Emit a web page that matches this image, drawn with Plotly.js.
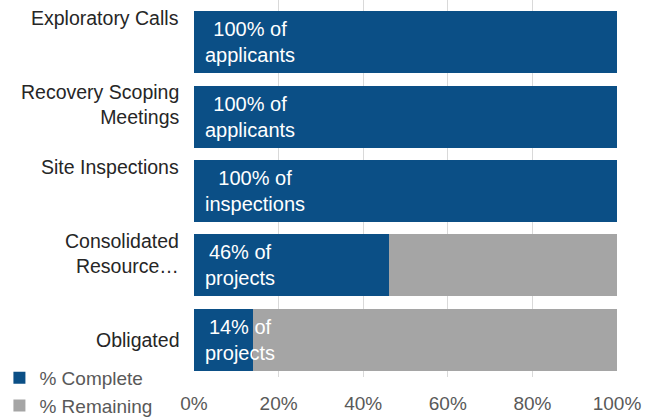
<!DOCTYPE html>
<html>
<head>
<meta charset="utf-8">
<script src="https://cdn.plot.ly/plotly-3.0.1.min.js"></script>
<style>html,body{margin:0;padding:0;background:#fff;}#chart{width:646px;height:417px;}</style>
</head>
<body>
<div id="chart"></div>
<script>
var categories = ["Exploratory Calls", "Recovery Scoping Meetings", "Site Inspections", "Consolidated Resource Plans", "Obligated"];
var categoryLabels = ["Exploratory Calls", "Recovery Scoping<br>Meetings", "Site Inspections", "Consolidated<br>Resource…", "Obligated"];
var pctComplete = [1.00, 1.00, 1.00, 0.46, 0.14];
var pctRemaining = [0.00, 0.00, 0.00, 0.54, 0.86];
var unitLabels = ["applicants", "applicants", "inspections", "projects", "projects"];
var tickVals = [0, 0.2, 0.4, 0.6, 0.8, 1.0];
var tickLabels = ["0%", "20%", "40%", "60%", "80%", "100%"];

var FONT = "Liberation Sans, Arial, sans-serif";
var BLUE = "#0B4F86";
var GRAY = "#A5A5A5";

var traces = [
  {type: "bar", orientation: "h", name: "% Complete", y: categories, x: pctComplete,
   marker: {color: BLUE}, legendgroup: "a", hoverinfo: "none"},
  {type: "bar", orientation: "h", name: "% Remaining", y: categories, x: pctRemaining,
   marker: {color: GRAY}, legendgroup: "b", hoverinfo: "none"}
];

// label vertical offsets (styling only)
var labelShift = [24, 12, 24, 12, 0];
var annotations = [];
categories.forEach(function (c, i) {
  annotations.push({
    xref: "paper", yref: "y", x: 0, y: c, xanchor: "right", yanchor: "middle",
    xshift: -13, yshift: labelShift[i], showarrow: false, align: "right",
    text: categoryLabels[i], font: {family: FONT, size: 19.5, color: "#262626"}
  });
  annotations.push({
    xref: "x", yref: "y", x: 0, y: c, xanchor: "left", yanchor: "middle",
    xshift: 9, showarrow: false, align: "center",
    text: Math.round(pctComplete[i] * 100) + "% of<br>" + unitLabels[i],
    font: {family: FONT, size: 20, color: "#FFFFFF"}
  });
});

var layout = {
  width: 646, height: 417,
  margin: {l: 194, r: 29, t: 0, b: 40, pad: 0, autoexpand: false},
  paper_bgcolor: "#fff", plot_bgcolor: "#fff",
  barmode: "stack", bargap: 0.165,
  showlegend: true,
  legend: {x: -0.46, y: 0.048, xanchor: "left", yanchor: "top", orientation: "v",
           traceorder: "normal", tracegroupgap: 4, bgcolor: "rgba(0,0,0,0)",
           font: {family: FONT, size: 19, color: "#595959"}},
  xaxis: {range: [0, 1], tickvals: tickVals, ticktext: tickLabels, showgrid: true,
          gridcolor: "#D9D9D9", gridwidth: 1, zeroline: false, showline: false, ticks: "",
          ticklabelstandoff: 13, fixedrange: true, automargin: false,
          tickfont: {family: FONT, size: 19, color: "#595959"}},
  yaxis: {type: "category", range: [4.505, -0.572], showticklabels: false, showgrid: false,
          zeroline: false, showline: false, ticks: "", fixedrange: true, automargin: false},
  annotations: annotations,
  font: {family: FONT}
};

Plotly.newPlot("chart", traces, layout, {displayModeBar: false, staticPlot: true});
</script>
</body>
</html>
